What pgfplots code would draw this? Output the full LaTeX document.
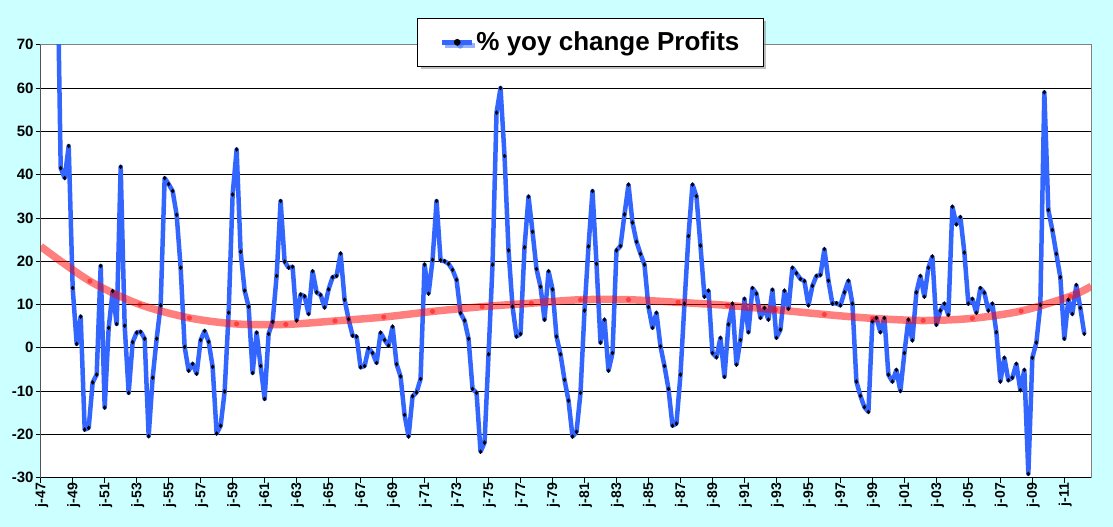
\documentclass[border=0pt]{standalone}
\usepackage{fontspec}
\setmainfont{Liberation Sans}
\usepackage{pgfplots}
\pgfplotsset{compat=1.18}
\usetikzlibrary{shadows}
\definecolor{bgcyan}{RGB}{204,255,255}
\definecolor{lineblue}{RGB}{51,102,255}
\begin{document}
\begin{tikzpicture}
\fill[bgcyan] (-40.7bp,-49.3bp) rectangle (1072.3bp,477.7bp);
\begin{axis}[
  at={(0,0)}, anchor=south west,
  scale only axis, width=1050.6bp, height=433bp,
  xmin=0, xmax=262.75, ymin=-30, ymax=70,
  axis background/.style={fill=white},
  axis line style={draw=gray, line width=0.75bp},
  ymajorgrids, grid style={black, line width=0.75bp},
  ytick={-30,-20,...,70},
  yticklabels={-30,-20,-10,0,10,20,30,40,50,60,70},
  xtick={0,8,...,256},
  xticklabels={j-47,j-49,j-51,j-53,j-55,j-57,j-59,j-61,j-63,j-65,j-67,j-69,j-71,j-73,j-75,j-77,j-79,j-81,j-83,j-85,j-87,j-89,j-91,j-93,j-95,j-97,j-99,j-01,j-03,j-05,j-07,j-09,j-11},
  tick align=outside, xtick pos=lower, ytick pos=left,
  major tick length=5bp,
  tick style={black, line width=0.75bp},
  yticklabel style={font=\fontsize{15bp}{17bp}\selectfont\bfseries, anchor=east, inner sep=0pt, xshift=-2bp},
  xticklabel style={font=\fontsize{14bp}{16bp}\selectfont\bfseries, rotate=90, anchor=east, inner sep=0pt, yshift=-1bp},
  legend style={at={(axis description cs:0.5235,1.0055)}, anchor=center,
    draw=black, line width=1bp, fill=white,
    drop shadow={shadow xshift=3bp, shadow yshift=-3bp, opacity=0.5},
    inner xsep=22bp, inner ysep=12bp,
    font=\fontsize{26bp}{30bp}\selectfont\bfseries},
  legend image code/.code={
    \draw[lineblue, line width=4.5bp] (0bp,0bp) -- (30bp,0bp);
    \fill[black] (15bp,0bp) circle (1.2bp);
  },
]
\addplot[lineblue, line width=4.5bp, line join=round, mark=diamond*, mark size=2bp, mark options={black, fill=black, line width=0.4bp}] coordinates {
(4,100) (5,41.5) (6,39.2) (7,46.6) (8,13.8) (9,0.9) (10,7.2) (11,-18.9) (12,-18.5) (13,-8.0)
(14,-6.2) (15,18.9) (16,-13.8) (17,4.6) (18,13.1) (19,5.5) (20,41.8) (21,5.1) (22,-10.4) (23,1.3)
(24,3.5) (25,3.7) (26,2.1) (27,-20.4) (28,-6.9) (29,2.1) (30,9.8) (31,39.2) (32,37.8) (33,36.2)
(34,30.7) (35,18.5) (36,0.2) (37,-5.3) (38,-3.7) (39,-6.0) (40,1.8) (41,3.9) (42,1.4) (43,-4.4)
(44,-19.8) (45,-18.0) (46,-10.1) (47,8.1) (48,35.4) (49,45.8) (50,22.2) (51,13.2) (52,9.5) (53,-5.8)
(54,3.5) (55,-4.2) (56,-11.8) (57,3.2) (58,6.0) (59,16.6) (60,33.9) (61,19.9) (62,18.5) (63,18.7)
(64,6.3) (65,12.3) (66,11.9) (67,7.8) (68,17.7) (69,12.8) (70,12.2) (71,9.3) (72,13.5) (73,16.3)
(74,16.6) (75,21.8) (76,11.1) (77,6.6) (78,2.8) (79,2.6) (80,-4.5) (81,-4.2) (82,-0.1) (83,-1.2)
(84,-3.5) (85,3.5) (86,1.8) (87,0.5) (88,4.9) (89,-3.8) (90,-6.6) (91,-15.5) (92,-20.5) (93,-11.2)
(94,-10.3) (95,-7.2) (96,19.2) (97,12.5) (98,20.3) (99,33.9) (100,20.2) (101,20.0) (102,19.4) (103,18.0)
(104,15.7) (105,8.0) (106,6.3) (107,2.1) (108,-9.5) (109,-10.4) (110,-24.0) (111,-21.9) (112,-1.5) (113,19.2)
(114,54.3) (115,60.0) (116,44.3) (117,22.5) (118,9.5) (119,2.6) (120,3.2) (121,23.2) (122,34.9) (123,26.8)
(124,18.2) (125,14.1) (126,6.5) (127,17.7) (128,13.5) (129,2.6) (130,-1.5) (131,-7.4) (132,-12.2) (133,-20.5)
(134,-19.4) (135,-10.4) (136,8.6) (137,23.4) (138,36.2) (139,19.4) (140,1.2) (141,6.5) (142,-5.3) (143,-1.2)
(144,22.5) (145,23.5) (146,30.8) (147,37.7) (148,28.9) (149,24.5) (150,21.7) (151,19.2) (152,9.4) (153,4.6)
(154,8.1) (155,0.3) (156,-4.2) (157,-9.5) (158,-18.0) (159,-17.5) (160,-6.2) (161,10.2) (162,25.8) (163,37.7)
(164,35.0) (165,23.6) (166,11.8) (167,13.2) (168,-1.2) (169,-2.2) (170,2.3) (171,-6.7) (172,5.4) (173,10.2)
(174,-3.9) (175,1.8) (176,11.3) (177,3.6) (178,13.8) (179,12.5) (180,6.9) (181,9.2) (182,6.5) (183,13.4)
(184,2.3) (185,4.2) (186,13.2) (187,9.0) (188,18.5) (189,17.2) (190,15.9) (191,15.4) (192,9.8) (193,14.3)
(194,16.6) (195,16.8) (196,22.8) (197,15.5) (198,10.2) (199,10.3) (200,9.8) (201,12.8) (202,15.5) (203,10.2)
(204,-7.8) (205,-11.1) (206,-13.7) (207,-14.8) (208,6.1) (209,6.9) (210,3.6) (211,6.9) (212,-6.2) (213,-7.8)
(214,-5.1) (215,-10.0) (216,-1.2) (217,6.5) (218,1.7) (219,12.8) (220,16.6) (221,11.8) (222,18.5) (223,21.1)
(224,5.3) (225,8.6) (226,10.2) (227,7.6) (228,32.6) (229,28.5) (230,30.2) (231,22.0) (232,10.2) (233,11.3)
(234,8.1) (235,13.8) (236,12.7) (237,8.6) (238,10.2) (239,3.6) (240,-7.8) (241,-2.3) (242,-7.5) (243,-6.9)
(244,-3.7) (245,-9.8) (246,-5.1) (247,-29.1) (248,-2.3) (249,1.2) (250,9.9) (251,59.0) (252,31.8) (253,27.2)
(254,21.7) (255,16.3) (256,2.1) (257,11.1) (258,7.8) (259,14.5) (260,9.2) (261,3.2)
};
\addlegendentry{\% yoy change Profits}
\addplot[red, opacity=0.5, line width=7.5bp, smooth, forget plot] coordinates {
(0,23.4) (12.3,15.4) (24.8,10.0) (37.2,6.9) (49,5.5) (61.3,5.4) (73.6,6.2) (85.8,7.1) (98,8.4) (110.4,9.5)
(122.7,10.3) (135,11.1) (147,11.1) (159.4,10.5) (171.7,9.8) (183.8,8.8) (196,7.7) (208,6.8) (220.7,6.3) (233,6.8)
(245.2,8.5) (257.5,11.9) (262.75,14.2)
};
\addplot[red, only marks, mark=*, mark size=2.6bp, mark options={solid, draw=red, draw opacity=0, fill=red, fill opacity=0.5}, forget plot] coordinates {
(12.3,15.4) (24.8,10.0) (37.2,6.9) (49,5.5) (61.3,5.4) (73.6,6.2) (85.8,7.1) (98,8.4) (110.4,9.5)
(122.7,10.3) (135,11.1) (147,11.1) (159.4,10.5) (171.7,9.8) (183.8,8.8) (196,7.7) (208,6.8) (220.7,6.3) (233,6.8)
(245.2,8.5) (257.5,11.9)
};
\draw[black, line width=0.75bp] (rel axis cs:0,1) -- (rel axis cs:0,0) -- (rel axis cs:1,0);
\end{axis}
\end{tikzpicture}
\end{document}
